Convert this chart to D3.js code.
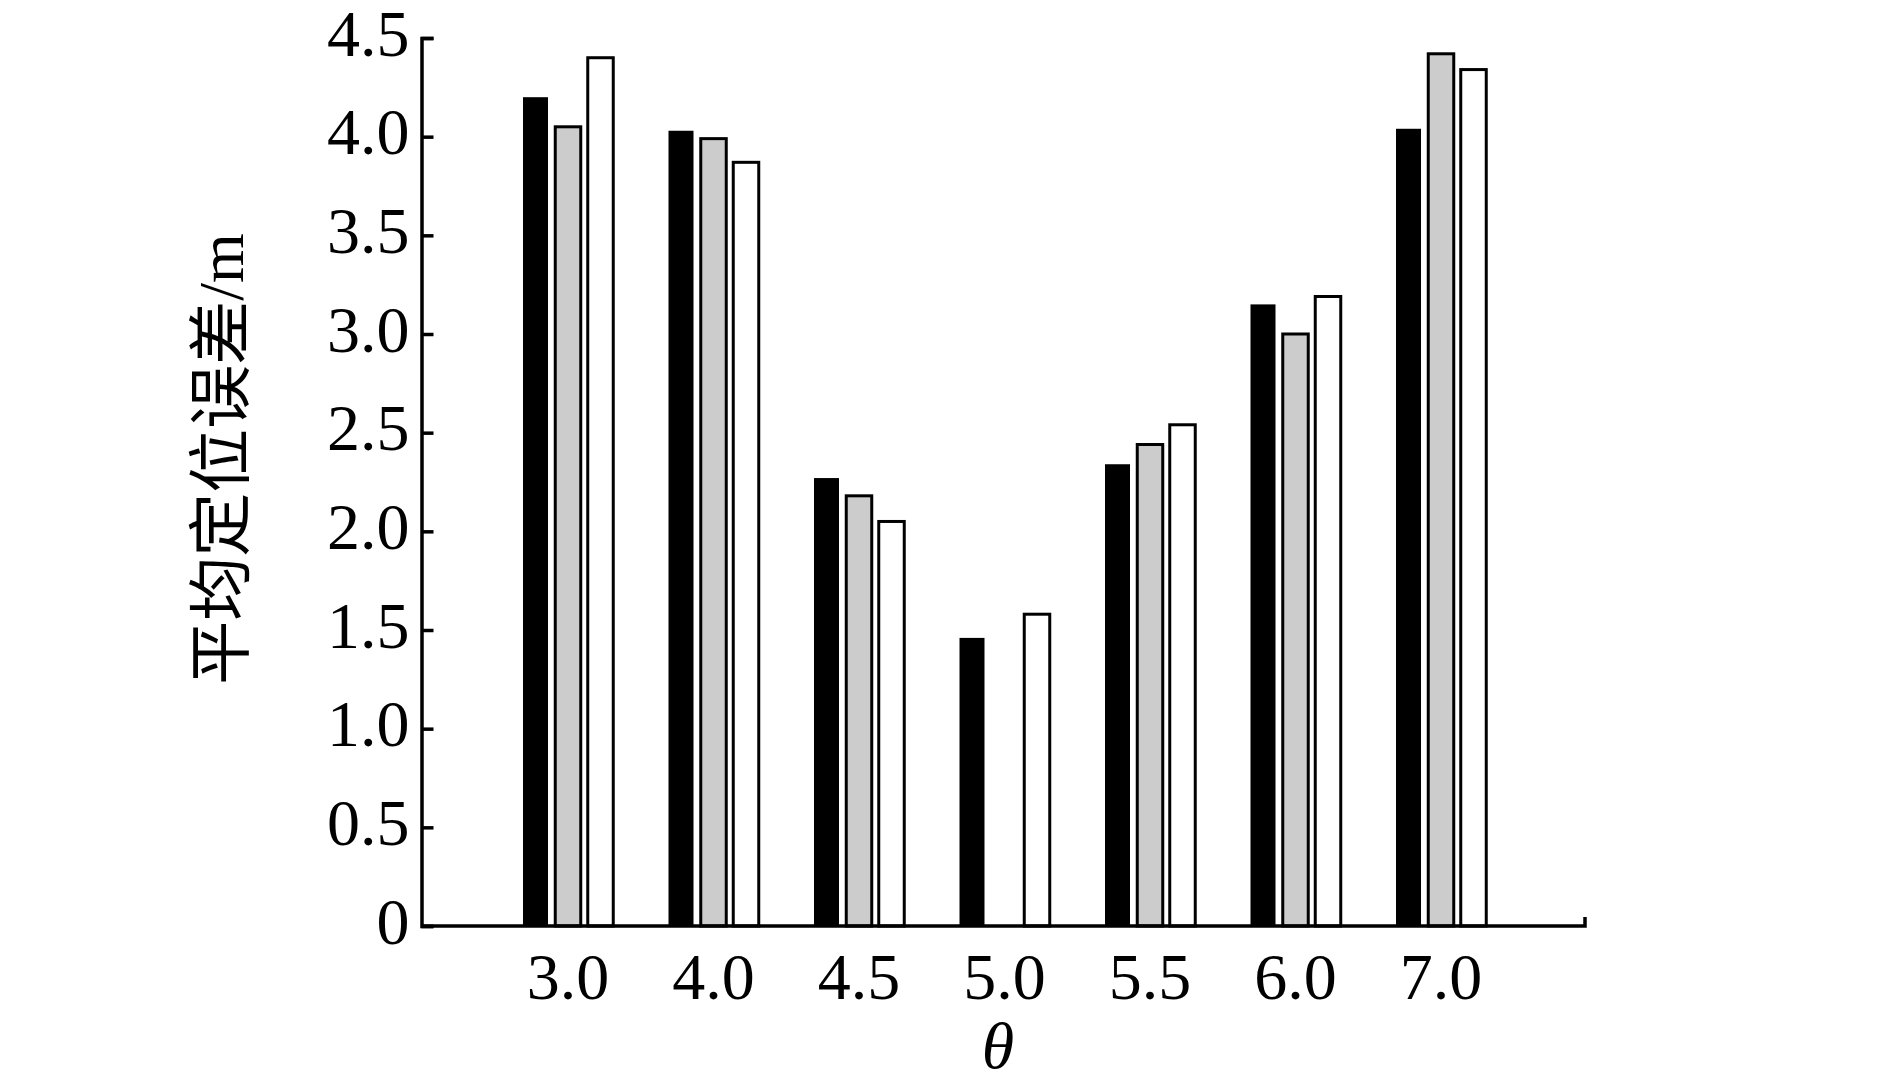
<!DOCTYPE html>
<html>
<head>
<meta charset="utf-8">
<script src="https://cdn.jsdelivr.net/npm/d3@7"></script>
<style>
  html, body { margin: 0; padding: 0; background: #ffffff; }
  svg { display: block; }
</style>
</head>
<body>
<svg id="chart" width="1890" height="1087"></svg>
<script>
// ---- data ----
const categories = ["3.0", "4.0", "4.5", "5.0", "5.5", "6.0", "7.0"];
const seriesNames = ["black", "gray", "white"];
const seriesBlack = [4.20, 4.03, 2.27, 1.46, 2.34, 3.15, 4.04];
const seriesGray  = [4.05, 3.99, 2.18, null, 2.44, 3.00, 4.42];
const seriesWhite = [4.40, 3.87, 2.05, 1.58, 2.54, 3.19, 4.34];
const yTicks = [0, 0.5, 1.0, 1.5, 2.0, 2.5, 3.0, 3.5, 4.0, 4.5];
const yLabel = "平均定位误差/m";
const xLabel = "θ";

// ---- layout ----
const svg = d3.select("#chart");
svg.append("rect").attr("width", 1890).attr("height", 1087).attr("fill", "#fff");

const axisX0 = 421.5, axisX1 = 1585, baseY = 926, topY = 38;
const step = 145.5, firstCenter = 568;
const x = d3.scaleBand()
  .domain(categories)
  .range([firstCenter - step / 2, firstCenter - step / 2 + step * categories.length])
  .paddingInner(0).paddingOuter(0);
const x1 = d3.scaleBand().domain(seriesNames).range([-48.75, 48.75]);
const y = d3.scaleLinear().domain([0, 4.5]).range([baseY, topY]);

const fontFam = "'Liberation Serif', 'Times New Roman', serif";
const styles = {
  black: { fill: "#000", stroke: "none", w: 25 },
  gray:  { fill: "#cccccc", stroke: "#000", w: 25.5 },
  white: { fill: "#fff", stroke: "#000", w: 25.5 }
};
const seriesData = { black: seriesBlack, gray: seriesGray, white: seriesWhite };

// ---- bars ----
const g = svg.append("g");
seriesNames.forEach(s => {
  const st = styles[s];
  const rows = categories.map((c, i) => ({ c, v: seriesData[s][i] })).filter(d => d.v != null && d.v > 0);
  g.selectAll("rect." + s).data(rows).enter().append("rect")
    .attr("class", s)
    .attr("x", d => x(d.c) + x.bandwidth() / 2 + x1(s) + x1.bandwidth() / 2 - st.w / 2)
    .attr("y", d => y(d.v))
    .attr("width", st.w)
    .attr("height", d => baseY - y(d.v))
    .attr("fill", st.fill)
    .attr("stroke", st.stroke)
    .attr("stroke-width", 3);
});

// ---- y axis ----
const yAxis = d3.axisLeft(y)
  .tickValues(yTicks)
  .tickSize(-12)
  .tickPadding(12)
  .tickFormat(d => d === 0 ? "0" : d3.format(".1f")(d));
const ya = svg.append("g").attr("transform", `translate(${axisX0},0)`).call(yAxis);
ya.select(".domain").attr("stroke", "#000").attr("stroke-width", 3.5);
ya.selectAll(".tick line").attr("stroke", "#000").attr("stroke-width", 3.5);
ya.selectAll(".tick text")
  .attr("fill", "#000")
  .attr("font-family", fontFam)
  .attr("font-size", 66)
  .attr("dy", "0.26em");

// ---- x axis ----
const xAxis = d3.axisBottom(x).tickSize(0).tickPadding(50);
const xa = svg.append("g").attr("transform", `translate(0,${baseY})`).call(xAxis);
xa.select(".domain").remove();
xa.selectAll(".tick text")
  .attr("fill", "#000")
  .attr("font-family", fontFam)
  .attr("font-size", 66)
  .attr("dy", "0.35em");

svg.append("path")
  .attr("d", `M${axisX0},${baseY}H${axisX1}V${baseY - 9}`)
  .attr("fill", "none")
  .attr("stroke", "#000")
  .attr("stroke-width", 3.5);

// ---- axis titles ----
svg.append("text")
  .attr("x", 998).attr("y", 1068)
  .attr("text-anchor", "middle")
  .attr("font-family", fontFam)
  .attr("font-style", "italic")
  .attr("font-size", 66)
  .attr("fill", "#000")
  .text(xLabel);

svg.append("text")
  .attr("transform", "translate(243,459) rotate(-90)")
  .attr("text-anchor", "middle")
  .attr("font-family", "'Liberation Serif', 'Noto Sans CJK SC', serif")
  .attr("font-size", 64)
  .attr("fill", "#000")
  .text(yLabel);
</script>
</body>
</html>
